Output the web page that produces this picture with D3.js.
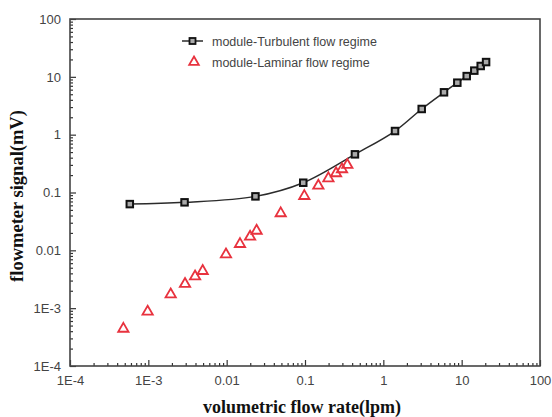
<!DOCTYPE html>
<html>
<head>
<meta charset="utf-8">
<script src="https://cdn.jsdelivr.net/npm/d3@7"></script>
<style>
  html, body { margin: 0; padding: 0; background: #fff; }
  svg { display: block; }
</style>
</head>
<body>
<svg id="chart" width="552" height="417"></svg>
<script>
// Turbulent-regime module: flow rate (lpm) and signal (mV)
const turbFlow   = [0.00058, 0.0029, 0.0233, 0.095, 0.434, 1.41, 3.09, 5.95, 8.8, 11.6, 14.5, 17.5, 20.5];
const turbSignal = [0.063, 0.0676, 0.0857, 0.1476, 0.457, 1.156, 2.78, 5.40, 7.92, 10.3, 12.8, 15.4, 18.0];

// Laminar-regime module: flow rate (lpm) and signal (mV)
const lamFlow   = [0.00048, 0.00098, 0.00193, 0.00294, 0.00395, 0.00494, 0.0098, 0.0148, 0.0199, 0.0241,
                   0.049, 0.098, 0.148, 0.199, 0.249, 0.297, 0.347];
const lamSignal = [0.00044, 0.00087, 0.00173, 0.00262, 0.00353, 0.00439, 0.0085, 0.01285, 0.0172, 0.0218,
                   0.0437, 0.0869, 0.131, 0.176, 0.215, 0.252, 0.299];

// Decade tick values and their labels (shared by both axes)
const decadeTicks  = [1e-4, 1e-3, 1e-2, 1e-1, 1, 10, 100];
const decadeLabels = ["1E-4", "1E-3", "0.01", "0.1", "1", "10", "100"];

const seriesNames = ["module-Turbulent flow regime", "module-Laminar flow regime"];
const xTitle = "volumetric flow rate(lpm)";
const yTitle = "flowmeter signal(mV)";

const svg = d3.select("#chart");
const plotL = 70, plotR = 540, plotT = 19, plotB = 366;

const x = d3.scaleLog().domain([1e-4, 100]).range([plotL, plotR]);
const y = d3.scaleLog().domain([1e-4, 100]).range([plotB, plotT]);

const minorTicks = [];
for (let e = -4; e < 2; e++) {
  for (let m = 2; m <= 9; m++) minorTicks.push(m * Math.pow(10, e));
}
const labelOf = v => decadeLabels[decadeTicks.findIndex(t => Math.abs(t - v) / v < 1e-6)];

const axisColor = "#333";
const tickFont = "Liberation Sans, Arial, sans-serif";

// X axis: major + minor ticks pointing inward
const gx = svg.append("g").attr("transform", `translate(0,${plotB})`);
gx.call(d3.axisBottom(x).tickValues(decadeTicks).tickFormat(labelOf)
  .tickSizeInner(-6).tickSizeOuter(0).tickPadding(10));
const gxm = svg.append("g").attr("transform", `translate(0,${plotB})`);
gxm.call(d3.axisBottom(x).tickValues(minorTicks).tickFormat("")
  .tickSizeInner(-3).tickSizeOuter(0));

// Y axis
const gy = svg.append("g").attr("transform", `translate(${plotL},0)`);
gy.call(d3.axisLeft(y).tickValues(decadeTicks).tickFormat(labelOf)
  .tickSizeInner(-6).tickSizeOuter(0).tickPadding(9));
const gym = svg.append("g").attr("transform", `translate(${plotL},0)`);
gym.call(d3.axisLeft(y).tickValues(minorTicks).tickFormat("")
  .tickSizeInner(-3).tickSizeOuter(0));

[gx, gxm, gy, gym].forEach(g => {
  g.select(".domain").remove();
  g.selectAll(".tick line").attr("stroke", axisColor).attr("stroke-width", 1.2);
  g.selectAll(".tick text").attr("fill", "#444")
    .style("font-family", tickFont).style("font-size", "13px");
});

// Plot frame
svg.append("rect")
  .attr("x", plotL).attr("y", plotT)
  .attr("width", plotR - plotL).attr("height", plotB - plotT)
  .attr("fill", "none").attr("stroke", "#444").attr("stroke-width", 1.6);

// Turbulent series: smooth curve through the points
const turb = turbFlow.map((f, i) => [f, turbSignal[i]]);
const lam = lamFlow.map((f, i) => [f, lamSignal[i]]);

svg.append("path")
  .datum(turb)
  .attr("d", d3.line().x(d => x(d[0])).y(d => y(d[1])).curve(d3.curveCatmullRom.alpha(0.5)))
  .attr("fill", "none").attr("stroke", "#2b2b2b").attr("stroke-width", 1.5);

const sq = 6.5;
svg.append("g").selectAll("rect")
  .data(turb).join("rect")
  .attr("x", d => x(d[0]) - sq / 2).attr("y", d => y(d[1]) - sq / 2)
  .attr("width", sq).attr("height", sq)
  .attr("fill", "#aaa").attr("stroke", "#111").attr("stroke-width", 2);

// Laminar series: hollow red triangles
const tri = d3.symbol().type(d3.symbolTriangle).size(46);
const red = "#e8323e";
svg.append("g").selectAll("path")
  .data(lam).join("path")
  .attr("d", tri)
  .attr("transform", d => `translate(${x(d[0])},${y(d[1])})`)
  .attr("fill", "none").attr("stroke", red).attr("stroke-width", 1.8);

// Legend
const lg = svg.append("g").style("font-family", tickFont).style("font-size", "12.5px");
lg.append("line").attr("x1", 182).attr("x2", 203).attr("y1", 41).attr("y2", 41)
  .attr("stroke", "#2b2b2b").attr("stroke-width", 1.5);
lg.append("rect").attr("x", 192.5 - 3).attr("y", 41 - 3).attr("width", 6).attr("height", 6)
  .attr("fill", "#aaa").attr("stroke", "#111").attr("stroke-width", 1.8);
lg.append("text").attr("x", 212).attr("y", 45.5).attr("fill", "#444").text(seriesNames[0]);
lg.append("path").attr("d", d3.symbol().type(d3.symbolTriangle).size(40)())
  .attr("transform", "translate(194,62)")
  .attr("fill", "none").attr("stroke", red).attr("stroke-width", 1.8);
lg.append("text").attr("x", 212).attr("y", 66.5).attr("fill", "#444").text(seriesNames[1]);

// Axis titles
const titleFont = "Liberation Serif, 'Times New Roman', serif";
svg.append("text")
  .attr("x", 302).attr("y", 413)
  .attr("text-anchor", "middle")
  .style("font-family", titleFont).style("font-weight", "bold").style("font-size", "18px")
  .attr("fill", "#111")
  .text(xTitle);

svg.append("text")
  .attr("transform", "translate(23,196) rotate(-90)")
  .attr("text-anchor", "middle")
  .style("font-family", titleFont).style("font-weight", "bold").style("font-size", "18.5px")
  .attr("fill", "#111")
  .text(yTitle);
</script>
</body>
</html>
